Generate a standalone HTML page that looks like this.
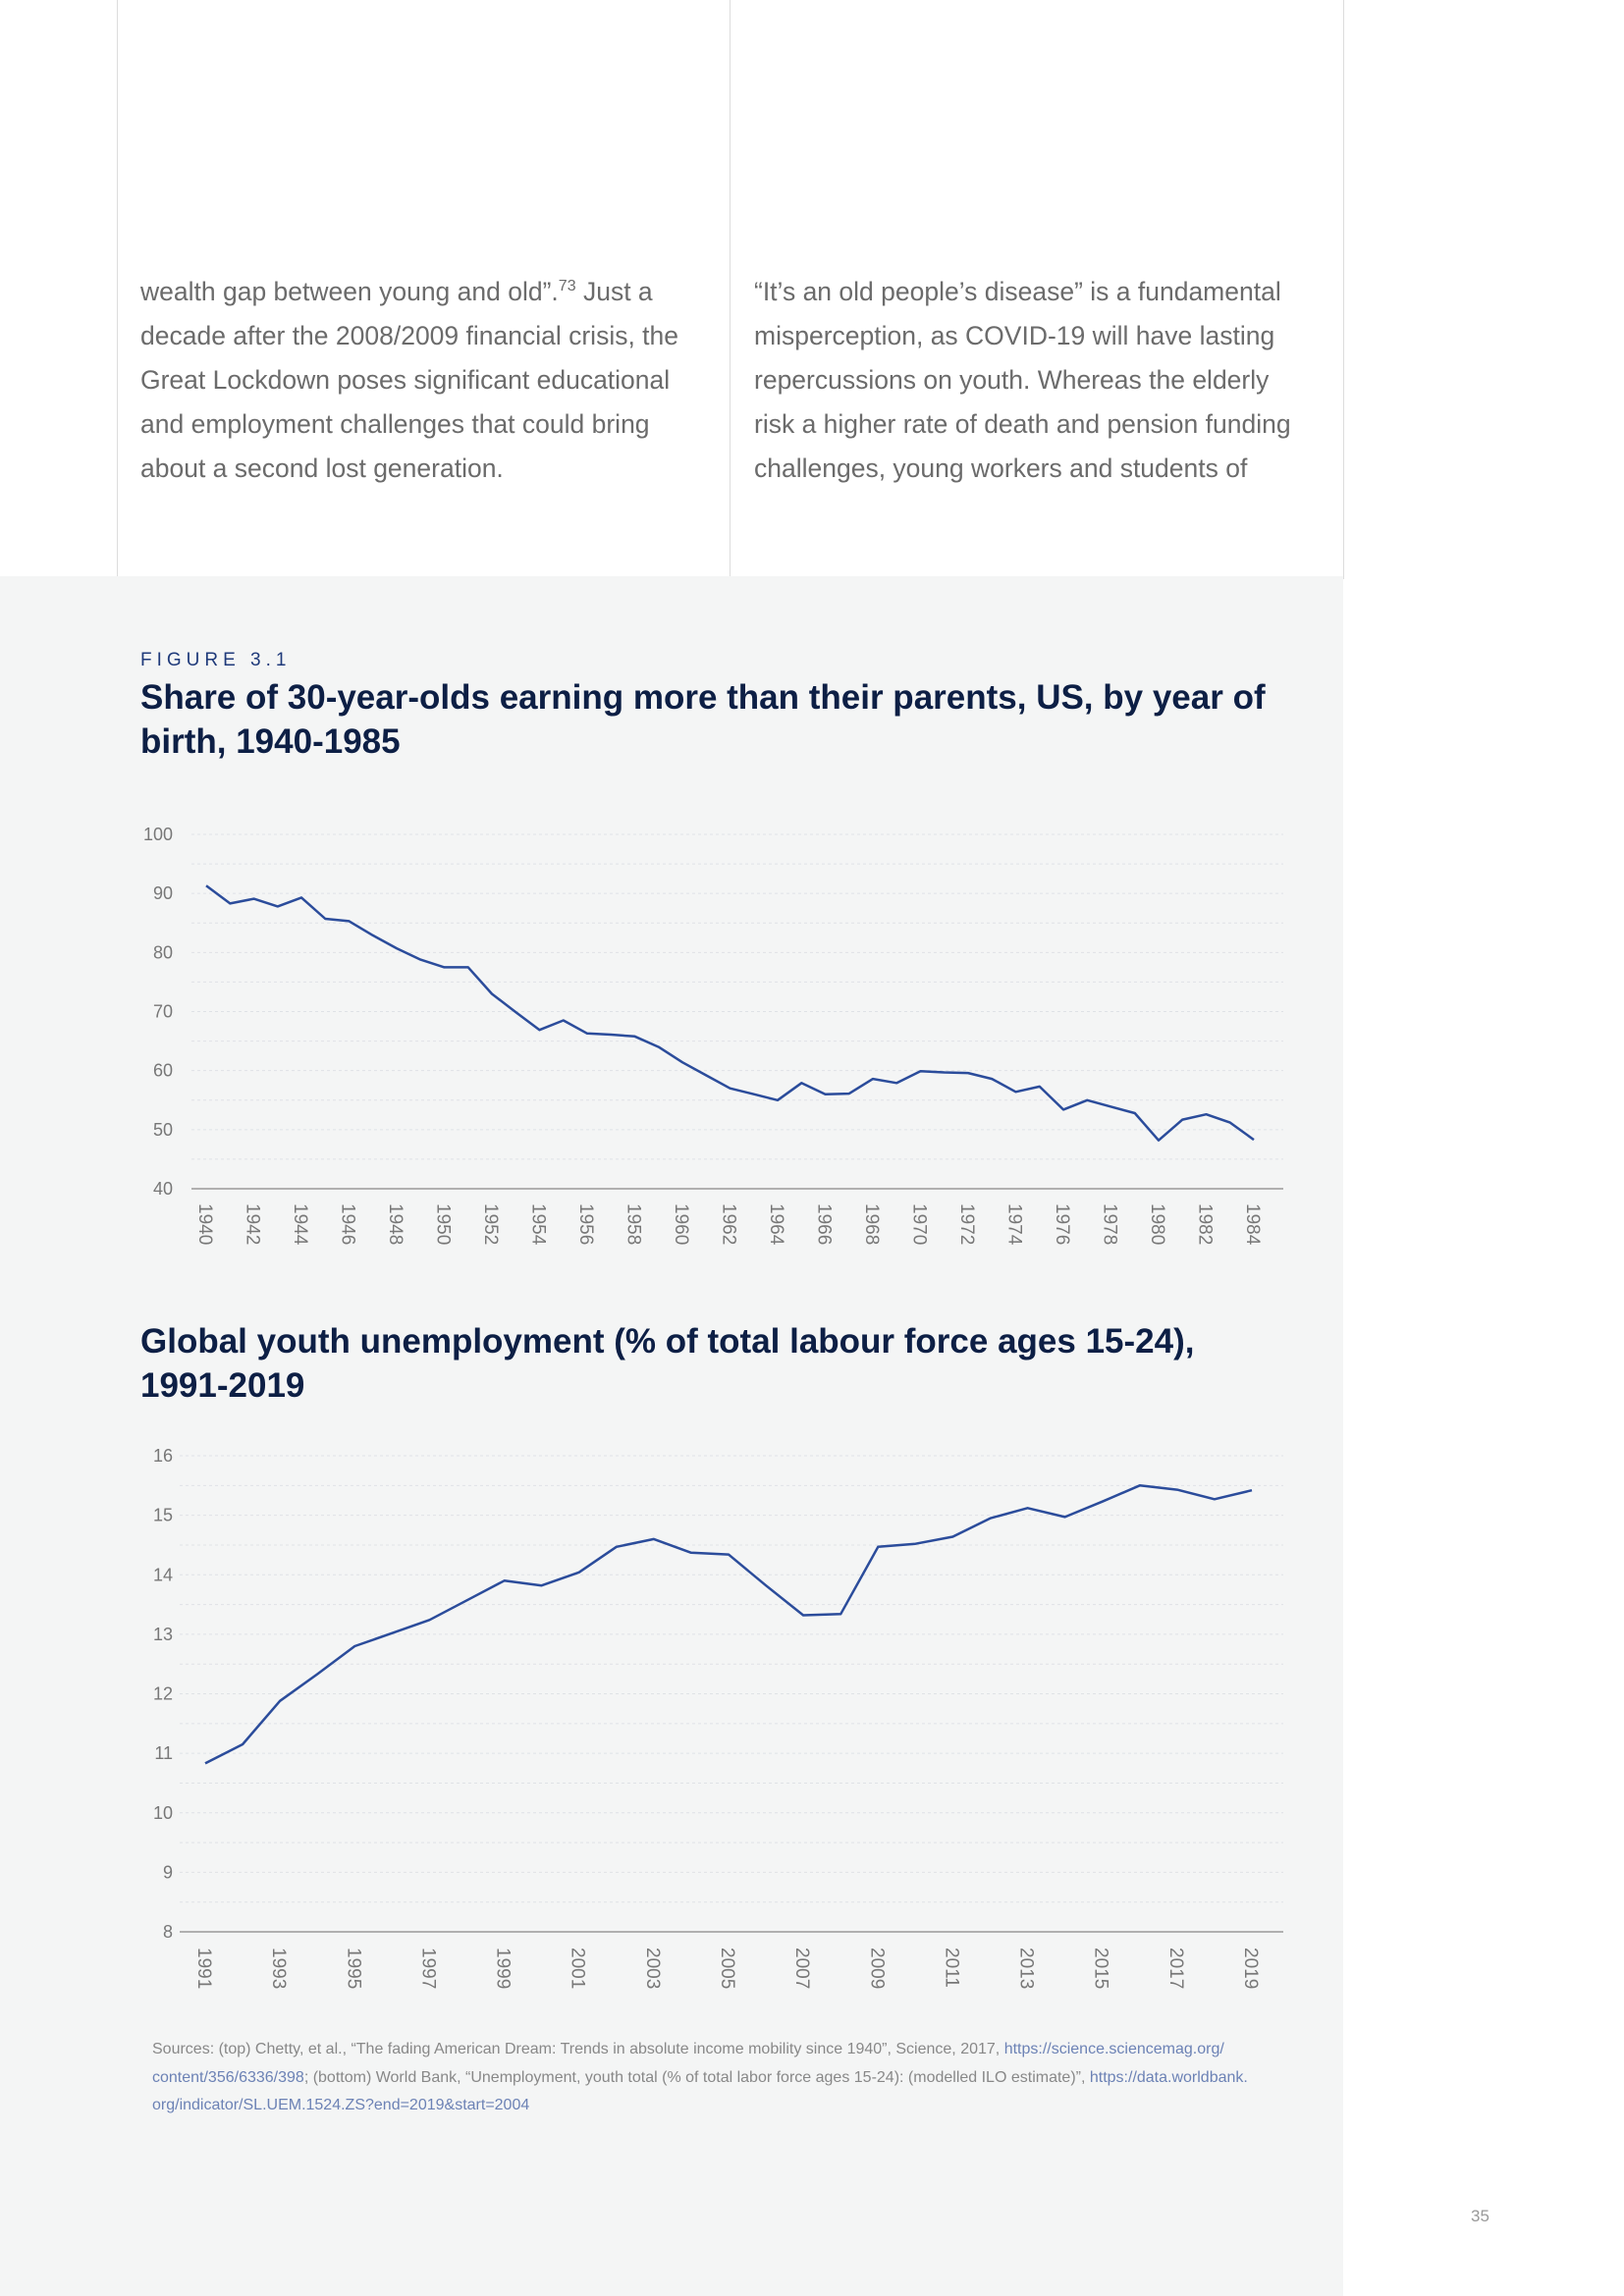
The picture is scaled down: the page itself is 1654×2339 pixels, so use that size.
<!DOCTYPE html>
<html><head><meta charset="utf-8">
<style>
body{margin:0;width:1654px;height:2339px;position:relative;background:#fff;font-family:"Liberation Sans",sans-serif;overflow:hidden}
.abs{position:absolute}
.body{font-size:26.5px;line-height:45px;color:#6b6b6b;width:570px}
sup{line-height:0;font-size:16px}
</style></head><body>
<div class="abs" style="left:119px;top:0;width:1px;height:590px;background:#ddd"></div>
<div class="abs" style="left:743px;top:0;width:1px;height:590px;background:#ddd"></div>
<div class="abs" style="left:1368px;top:0;width:1px;height:590px;background:#ddd"></div>
<div class="abs body" style="left:143px;top:275px">wealth gap between young and old”.<sup>73</sup> Just a decade after the 2008/2009 financial crisis, the Great Lockdown poses significant educational and employment challenges that could bring about a second lost generation.</div>
<div class="abs body" style="left:768px;top:275px">“It’s an old people’s disease” is a fundamental misperception, as COVID-19 will have lasting repercussions on youth. Whereas the elderly risk a higher rate of death and pension funding challenges, young workers and students of</div>
<div class="abs" style="left:0;top:587px;width:1368px;height:1752px;background:#f4f5f5"></div>
<div class="abs" style="left:143px;top:662px;font-size:19px;letter-spacing:5px;color:#1f3a7a">FIGURE 3.1</div>
<div class="abs" style="left:143px;top:688px;font-size:35px;line-height:45px;font-weight:bold;color:#0d1f45;width:1200px">Share of 30-year-olds earning more than their parents, US, by year of birth, 1940-1985</div>
<div class="abs" style="left:143px;top:1344px;font-size:35px;line-height:45px;font-weight:bold;color:#0d1f45;width:1120px">Global youth unemployment (% of total labour force ages 15-24), 1991-2019</div>
<div class="abs" style="left:155px;top:2074px;font-size:16px;line-height:28.5px;color:#888;width:1180px">Sources: (top) Chetty, et al., “The fading American Dream: Trends in absolute income mobility since 1940”, Science, 2017, <span style="color:#6c82b5">https://science.sciencemag.org/ content/356/6336/398</span>; (bottom) World Bank, “Unemployment, youth total (% of total labor force ages 15-24): (modelled ILO estimate)”, <span style="color:#6c82b5">https://data.worldbank. org/indicator/SL.UEM.1524.ZS?end=2019&amp;start=2004</span></div>
<div class="abs" style="left:1498px;top:2248px;font-size:17px;color:#999">35</div>
<svg id="svg" class="abs" style="left:0;top:0" width="1654" height="2339"></svg>
<script>
const years1=[];for(let y=1940;y<=1984;y++)years1.push(y);
const share=[91.3,88.3,89.1,87.8,89.3,85.7,85.3,82.9,80.7,78.8,77.5,77.5,73.0,69.9,66.9,68.5,66.3,66.1,65.8,64.0,61.4,59.2,57.0,56.0,55.0,57.9,56.0,56.1,58.6,57.9,59.9,59.7,59.6,58.6,56.4,57.3,53.4,55.0,53.9,52.8,48.2,51.7,52.6,51.2,48.3];
const ticks1=[40,50,60,70,80,90,100];
const years2=[];for(let y=1991;y<=2019;y++)years2.push(y);
const unemp=[10.83,11.15,11.88,12.33,12.80,13.02,13.24,13.57,13.90,13.82,14.04,14.47,14.60,14.37,14.34,13.82,13.32,13.34,14.47,14.52,14.64,14.95,15.12,14.97,15.23,15.50,15.43,15.27,15.42];
const ticks2=[8,9,10,11,12,13,14,15,16];
const NS="http://www.w3.org/2000/svg",svg=document.getElementById('svg');
function mk(t,a,txt){const e=document.createElementNS(NS,t);for(const k in a)e.setAttribute(k,a[k]);if(txt!=null)e.textContent=txt;svg.appendChild(e);return e;}
function chart(id,xs,vals,ticks,x0,x1,yTop,yBot,axL,axR,labTop,labelEvery){
  const lo=ticks[0],hi=ticks[ticks.length-1];
  const X=i=>x0+(x1-x0)*(i/(xs.length-1));
  const Y=v=>yBot-(v-lo)/(hi-lo)*(yBot-yTop);
  const step=(yBot-yTop)/(ticks.length-1)/2;
  for(let k=0;k<(ticks.length-1)*2;k++){
    const g=mk('line',{x1:axL,x2:axR,y1:yTop+k*step,y2:yTop+k*step,stroke:'#dfe2e6','stroke-width':1,'stroke-dasharray':'3,3'});
    
    
  }
  ticks.forEach(t=>{
    const e=mk('text',{x:176,y:Y(t)+6,'text-anchor':'end','font-size':18,fill:'#777','font-family':'Liberation Sans'},t);
    
    
  });
  const ax=mk('line',{x1:axL,x2:axR,y1:yBot,y2:yBot,stroke:'#999','stroke-width':1.5});
  
  
  xs.forEach((yr,i)=>{
    if(i%labelEvery)return;
    const x=X(i);
    const e=mk('text',{x:0,y:0,'font-size':19,fill:'#777','font-family':'Liberation Sans',transform:`translate(${x-7},${labTop}) rotate(90)`},yr);
    
    
  });
  const p=vals.map((v,i)=>(i?'L':'M')+X(i).toFixed(1)+','+Y(v).toFixed(1)).join('');
  const l=mk('path',{d:p,fill:'none',stroke:'#2b4c9b','stroke-width':2.5,'stroke-linejoin':'round'});
  
  
}
chart('chart1',years1,share,ticks1,210,1277,850,1211,195,1307,1226,2);
chart('chart2',years2,unemp,ticks2,209,1275,1483,1968,183,1307,1984,2);
</script>
</body></html>
